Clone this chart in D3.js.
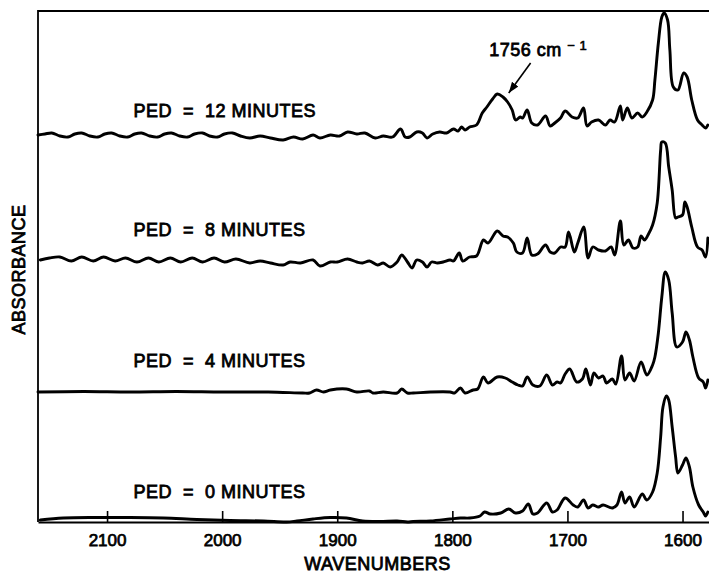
<!DOCTYPE html>
<html>
<head>
<meta charset="utf-8">
<script src="https://cdn.jsdelivr.net/npm/d3@7"></script>
<style>
  html, body { margin: 0; padding: 0; background: #fff; }
  svg { display: block; }
  text { font-family: "Liberation Sans", Arial, Helvetica, sans-serif; fill: #000; white-space: pre; }
</style>
</head>
<body>
<svg id="chart" width="709" height="575"></svg>
<script>
// ---------- DATA ----------
const wavenumberTicks = [2100, 2000, 1900, 1800, 1700, 1600];
const spectrumLabels = ["PED  =  12 MINUTES", "PED  =  8 MINUTES", "PED  =  4 MINUTES", "PED  =  0 MINUTES"];
const baselineOffsets = [3.87, 2.62, 1.30, 0.03];   // vertical offset of each trace (absorbance units)

// [wavenumber (cm-1), absorbance relative to trace baseline]
const ped12 = [
  [2160,0],[2154,0.01],[2148,0.02],[2141,-0.01],[2134,-0.02],[2128,0.01],[2122,0.02],[2115,-0.01],
  [2108,-0.02],[2102,0.01],[2096,0.02],[2089,-0.01],[2082,-0.02],[2076,0.01],[2070,0.02],[2063,-0.01],
  [2056,-0.02],[2050,0.01],[2044,0.02],[2037,-0.01],[2030,-0.02],[2024,0.01],[2017,0.02],[2011,-0.01],
  [2004,-0.02],[1998,0.01],[1991,0.02],[1984,-0.01],[1976,-0.03],[1967,-0.01],[1958,-0.03],[1947,-0.05],
  [1938,-0.02],[1930,-0.04],[1921,0.00],[1915,-0.03],[1906,0.00],[1898,-0.01],[1891,0.03],[1883,0.01],
  [1876,0.02],[1867,-0.03],[1860,-0.01],[1852,-0.02],[1845,0.06],[1841,-0.02],[1837,-0.02],[1831,0.03],
  [1826,0.02],[1822,-0.03],[1817,0.01],[1811,0.03],[1805,0.02],[1799,0.06],[1795,0.04],[1792,0.08],
  [1789,0.05],[1785,0.08],[1779,0.10],[1774,0.22],[1770,0.28],[1765,0.36],[1761,0.41],[1756,0.38],
  [1752,0.33],[1748,0.25],[1745,0.15],[1741,0.18],[1739,0.17],[1735,0.25],[1731,0.12],[1726,0.10],
  [1719,0.19],[1715,0.09],[1711,0.12],[1706,0.17],[1702,0.24],[1696,0.18],[1691,0.17],[1686,0.27],
  [1683,0.09],[1679,0.13],[1673,0.15],[1667,0.10],[1663,0.15],[1659,0.13],[1654,0.29],[1652,0.15],
  [1648,0.27],[1644,0.17],[1639,0.22],[1635,0.18],[1631,0.23],[1626,0.35],[1624,0.55],[1621,0.92],
  [1618,1.18],[1616,1.22],[1613,1.15],[1611,0.85],[1608,0.48],[1604,0.45],[1599,0.62],[1596,0.58],
  [1592,0.35],[1587,0.15],[1583,0.10],[1580,0.07],[1578,0.10]
];

const ped8 = [
  [2158,0],[2150,0.02],[2141,0.03],[2131,-0.01],[2122,0.03],[2112,-0.01],[2103,0.03],[2093,-0.01],
  [2084,0.02],[2074,-0.02],[2064,0.02],[2055,-0.02],[2045,0.02],[2036,-0.02],[2026,0.02],[2017,-0.02],
  [2007,0.02],[1998,-0.02],[1988,0.01],[1976,-0.03],[1967,-0.01],[1958,-0.03],[1947,-0.05],[1941,-0.02],
  [1932,-0.03],[1921,0.00],[1915,-0.06],[1906,-0.02],[1900,-0.02],[1891,0.01],[1883,-0.02],[1878,-0.03],
  [1872,-0.01],[1865,-0.05],[1860,-0.03],[1854,-0.07],[1848,-0.02],[1844,0.05],[1839,-0.02],[1835,-0.08],
  [1831,0.00],[1826,-0.02],[1822,-0.07],[1818,-0.02],[1813,-0.03],[1808,-0.02],[1802,0.00],[1799,-0.01],
  [1794,0.07],[1791,-0.01],[1785,0.03],[1779,0.04],[1773,0.20],[1769,0.17],[1761,0.29],[1756,0.24],
  [1752,0.23],[1747,0.17],[1744,0.08],[1739,0.07],[1735,0.22],[1731,0.05],[1726,0.06],[1719,0.15],
  [1715,0.08],[1711,0.07],[1706,0.13],[1702,0.13],[1699,0.28],[1694,0.08],[1691,0.17],[1686,0.33],
  [1685,0.30],[1682,0.02],[1678,0.13],[1673,0.10],[1667,0.09],[1662,0.13],[1659,0.05],[1654,0.39],
  [1651,0.15],[1647,0.20],[1643,0.12],[1639,0.13],[1636,0.24],[1633,0.20],[1630,0.25],[1626,0.35],
  [1622,0.57],[1619,1.10],[1618,1.18],[1615,1.17],[1612,0.93],[1609,0.70],[1606,0.42],[1604,0.43],
  [1600,0.45],[1598,0.58],[1596,0.53],[1592,0.33],[1587,0.13],[1583,0.10],[1580,0.03],[1578,0.22]
];

const ped4 = [
  [2160,0],[2120,0.005],[2080,0],[2040,0.005],[2000,0],[1960,0],[1930,-0.01],[1924,-0.01],
  [1918,0.02],[1912,0],[1906,0.02],[1892,0.03],[1883,0],[1872,0.01],[1869,-0.01],[1860,0],
  [1848,-0.01],[1844,0.03],[1839,-0.01],[1834,-0.01],[1819,0],[1802,0],[1798,-0.01],[1793,0.04],
  [1789,-0.01],[1782,0.02],[1778,0.03],[1773,0.15],[1769,0.09],[1761,0.15],[1754,0.14],[1748,0.10],
  [1743,0.07],[1739,0.06],[1735,0.15],[1730,0.07],[1724,0.06],[1718,0.17],[1713,0.07],[1709,0.10],
  [1706,0.09],[1702,0.18],[1698,0.23],[1692,0.10],[1687,0.13],[1684,0.23],[1680,0.07],[1677,0.19],
  [1673,0.14],[1669,0.16],[1666,0.09],[1661,0.13],[1658,0.08],[1653,0.36],[1650,0.12],[1646,0.19],
  [1642,0.11],[1636,0.30],[1631,0.17],[1626,0.27],[1624,0.35],[1621,0.59],[1618,0.95],[1615,1.20],
  [1612,1.12],[1609,0.79],[1605,0.45],[1600,0.50],[1597,0.60],[1594,0.52],[1591,0.35],[1586,0.14],
  [1582,0.10],[1580,0.04],[1578,0.12]
];

const ped0 = [
  [2158,-0.01],[2138,0.01],[2109,0.015],[2080,0.015],[2051,0.01],[2022,-0.005],[1993,-0.015],[1964,-0.02],
  [1944,-0.03],[1935,-0.02],[1921,0],[1906,0.015],[1892,0.01],[1878,-0.02],[1863,-0.025],[1848,-0.02],
  [1839,-0.03],[1834,-0.025],[1819,-0.02],[1802,0],[1793,0.01],[1785,0.01],[1776,0.03],[1772,0.07],
  [1767,0.05],[1758,0.06],[1751,0.10],[1745,0.06],[1739,0.08],[1734,0.15],[1730,0.05],[1726,0.06],
  [1718,0.16],[1713,0.07],[1709,0.09],[1702,0.21],[1695,0.14],[1691,0.12],[1686,0.19],[1682,0.11],
  [1678,0.14],[1673,0.12],[1669,0.14],[1661,0.11],[1657,0.14],[1653,0.27],[1650,0.16],[1646,0.22],
  [1642,0.12],[1635,0.25],[1631,0.19],[1626,0.27],[1622,0.46],[1619,0.82],[1617,1.12],[1614,1.23],
  [1612,1.19],[1609,0.92],[1606,0.62],[1604,0.46],[1600,0.54],[1597,0.61],[1594,0.52],[1591,0.32],
  [1586,0.14],[1582,0.07],[1580,0.03],[1578,0.07]
];

const spectra = [ped12, ped8, ped4, ped0];

// annotation: text anchor, arrow tail, arrow tip (wavenumber, absolute absorbance)
const annotationText = "1756 cm";
const annotationSup = "\u2212 1";
const annotationAt = [1768, 4.66];
const arrowFrom = [1732, 4.59];
const arrowTo = [1751, 4.29];

// ---------- CHART ----------
(function () {
const svg = d3.select("#chart");
const W = 709;
const mLeft = 38, mTop = 11, mBottom = 522;

const x = d3.scaleLinear().domain([2160, 1577]).range([mLeft, W]);
const y = d3.scaleLinear().domain([0, 5.11]).range([mBottom, mTop]);

// frame (left & top)
svg.append("path")
  .attr("d", `M${x.range()[1]},${y.range()[1]}H${x.range()[0]}V${y.range()[0]}`)
  .attr("fill", "none").attr("stroke", "#000").attr("stroke-width", 1.8);

// bottom axis, ticks inward
const xAxis = d3.axisBottom(x).tickValues(wavenumberTicks).tickSizeInner(-11).tickSizeOuter(0).tickPadding(12)
  .tickFormat(d3.format("d"));
const gx = svg.append("g").attr("transform", `translate(0,${y(0)})`).call(xAxis);
gx.select(".domain").attr("stroke-width", 2.2);
gx.selectAll(".tick line").attr("stroke-width", 1.6);
gx.selectAll(".tick text").style("font-size", "17px").style("font-family", "'Liberation Sans', Arial, sans-serif")
  .attr("fill", "#000").style("stroke", "#000").style("stroke-width", "0.75px");

// spectra
const line = d3.line()
  .x(d => x(d[0]))
  .y(d => y(d[1]))
  .curve(d3.curveCatmullRom.alpha(0.5));

spectra.forEach((s, i) => {
  const off = baselineOffsets[i];
  svg.append("path")
    .datum(s.map(d => [d[0], d[1] + off]))
    .attr("d", line)
    .attr("fill", "none")
    .attr("stroke", "#000")
    .attr("stroke-width", 2.9)
    .attr("stroke-linejoin", "round")
    .attr("stroke-linecap", "round");
});

// spectrum labels
const labelRise = [0.18, 0.24, 0.25, 0.21];
spectrumLabels.forEach((t, i) => {
  svg.append("text")
    .attr("x", x(2077))
    .attr("y", y(baselineOffsets[i] + labelRise[i]))
    .style("font-size", "18px").style("letter-spacing", "0.5px")
    .style("stroke", "#000").style("stroke-width", "0.8px")
    .text(t);
});

// annotation
const ann = svg.append("text")
  .attr("x", x(annotationAt[0])).attr("y", y(annotationAt[1]))
  .style("font-size", "18px").style("letter-spacing", "0.5px")
  .style("stroke", "#000").style("stroke-width", "0.8px");
ann.append("tspan").text(annotationText + " ");
ann.append("tspan").attr("dy", -6).style("font-size", "13px").style("stroke-width", "0.6px").text(annotationSup);

const defs = svg.append("defs");
defs.append("marker").attr("id", "arrow").attr("viewBox", "0 0 10 10")
  .attr("refX", 10).attr("refY", 5).attr("markerWidth", 11).attr("markerHeight", 8)
  .attr("markerUnits", "userSpaceOnUse").attr("orient", "auto").attr("preserveAspectRatio", "none")
  .append("path").attr("d", "M0,0L10,5L0,10Z").attr("fill", "#000");

svg.append("line")
  .attr("x1", x(arrowFrom[0])).attr("y1", y(arrowFrom[1]))
  .attr("x2", x(arrowTo[0])).attr("y2", y(arrowTo[1]))
  .attr("stroke", "#000").attr("stroke-width", 1.6)
  .attr("marker-end", "url(#arrow)");

// axis titles
svg.append("text")
  .attr("x", (x.range()[0] + x.range()[1]) / 2 + 4).attr("y", 570)
  .attr("text-anchor", "middle")
  .style("font-size", "18px").style("letter-spacing", "0.5px")
  .style("stroke", "#000").style("stroke-width", "0.8px")
  .text("WAVENUMBERS");

svg.append("text")
  .attr("transform", `translate(25,${(y.range()[0] + y.range()[1]) / 2 + 3}) rotate(-90)`)
  .attr("text-anchor", "middle")
  .style("font-size", "18px").style("letter-spacing", "0.5px")
  .style("stroke", "#000").style("stroke-width", "0.8px")
  .text("ABSORBANCE");
})();
</script>
</body>
</html>
